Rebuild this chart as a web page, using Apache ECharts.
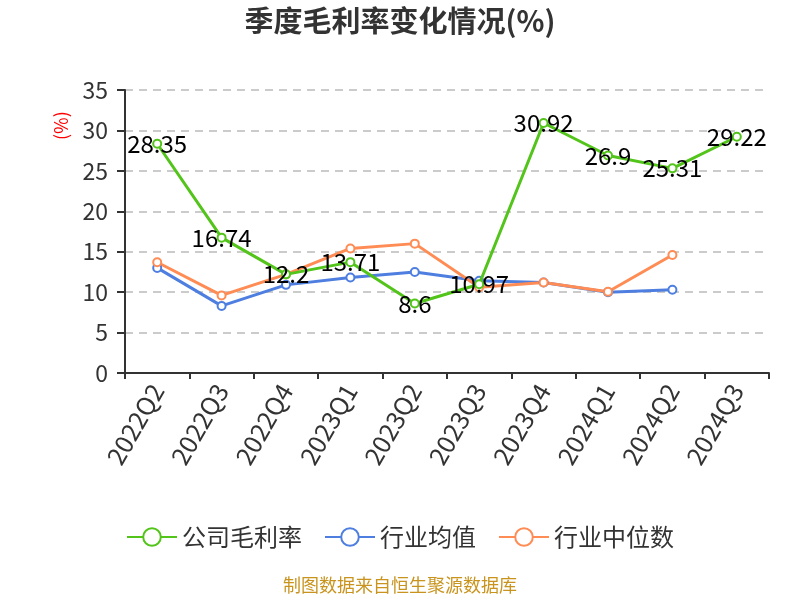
<!DOCTYPE html>
<html><head><meta charset="utf-8">
<script src="https://cdn.jsdelivr.net/npm/echarts@6/dist/echarts.min.js"></script>
<style>html,body{margin:0;padding:0;background:#fff}#c{width:800px;height:600px}</style>
</head><body><div id="c"></div>
<script>
const categories = ['2022Q2','2022Q3','2022Q4','2023Q1','2023Q2','2023Q3','2023Q4','2024Q1','2024Q2','2024Q3'];
const companyMargin = [28.35,16.74,12.2,13.71,8.6,10.97,30.92,26.9,25.31,29.22];
const industryAvg = [13.0,8.3,10.9,11.8,12.5,11.4,11.2,10.0,10.3,null];
const industryMedian = [13.7,9.6,12.2,15.4,16.0,10.6,11.2,10.05,14.6,null];
const yTicks = {min:0,max:35,interval:5};

const chart = echarts.init(document.getElementById('c'));
const font = '"Noto Sans CJK SC","Noto Sans",sans-serif';
function ser(name,data,color,label){
  return {name,type:'line',data,symbol:'emptyCircle',symbolSize:8,
    lineStyle:{width:3,color},itemStyle:{color,borderWidth:2},
    label:label?{show:true,position:'inside',color:'#000',fontSize:24,fontFamily:font}:{show:false},
    connectNulls:false,z:label?3:2};
}
chart.setOption({
  animation:false,
  textStyle:{fontFamily:font},
  title:{text:'季度毛利率变化情况(%)',left:'center',top:1,textStyle:{fontSize:29,fontWeight:'bold',color:'#333',fontFamily:font}},
  grid:{left:125,right:31,top:90,bottom:227,containLabel:false},
  legend:{top:520,left:'center',itemWidth:50,itemHeight:22,itemGap:22,
    textStyle:{fontSize:24,color:'#333',fontFamily:font},
    data:['公司毛利率','行业均值','行业中位数']},
  graphic:[
    {type:'text',left:'center',top:576,style:{text:'制图数据来自恒生聚源数据库',fill:'#c8941e',fontSize:18,fontFamily:font}},
    {type:'text',x:52,y:140,rotation:Math.PI/2,style:{text:'(%)',fill:'#f00',fontSize:18,fontFamily:font}}
  ],
  xAxis:{type:'category',data:categories,boundaryGap:true,
    axisLine:{lineStyle:{color:'#333',width:2}},
    axisTick:{show:true,inside:false,length:6,lineStyle:{color:'#333',width:2}},
    axisLabel:{rotate:60,fontSize:25,color:'#333',margin:13,fontFamily:font,interval:0}},
  yAxis:{type:'value',min:yTicks.min,max:yTicks.max,interval:yTicks.interval,
    axisLine:{show:true,lineStyle:{color:'#333',width:2}},
    axisTick:{show:true,length:8,lineStyle:{color:'#333',width:2}},
    axisLabel:{fontSize:23,color:'#333',margin:17,fontFamily:font},
    splitLine:{lineStyle:{type:[8,6],color:'#bbb',width:1.5}}},
  series:[ser('公司毛利率',companyMargin,'#52c41a',true),
          ser('行业均值',industryAvg,'#4e7fe0',false),
          ser('行业中位数',industryMedian,'#ff8c55',false)]
});
</script></body></html>
